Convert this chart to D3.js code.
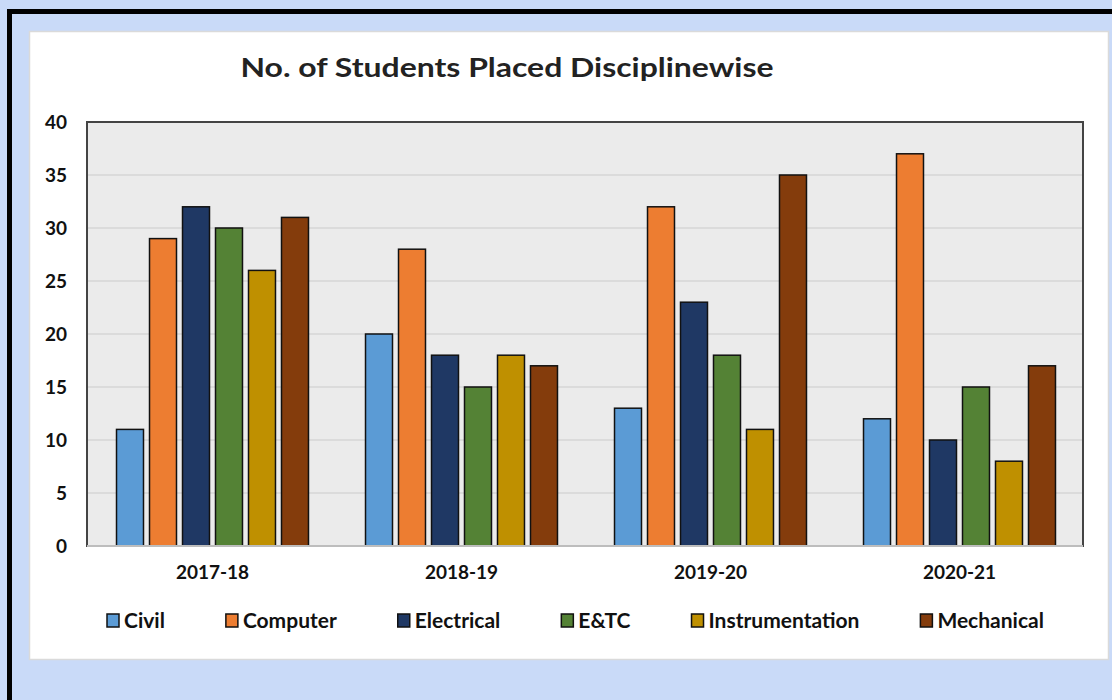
<!DOCTYPE html>
<html><head><meta charset="utf-8">
<script src="https://cdn.jsdelivr.net/npm/d3@7/dist/d3.min.js"></script>
<style>html,body{margin:0;padding:0;background:#c9daf8;overflow:hidden}</style>
</head><body>
<svg id="c" width="1112" height="700"></svg>
<script>
const years = ["2017-18", "2018-19", "2019-20", "2020-21"];
const disciplines = ["Civil", "Computer", "Electrical", "E&TC", "Instrumentation", "Mechanical"];
const civil = [11, 20, 13, 12];
const computer = [29, 28, 32, 37];
const electrical = [32, 18, 23, 10];
const etc = [30, 15, 18, 15];
const instrumentation = [26, 18, 11, 8];
const mechanical = [31, 17, 35, 17];
const yTicks = [0, 5, 10, 15, 20, 25, 30, 35, 40];
const colors = ["#5b9bd5", "#ed7d31", "#1f3864", "#548235", "#bf9000", "#843c0c"];
const seriesValues = [civil, computer, electrical, etc, instrumentation, mechanical];

const svg = d3.select("#c");
const FONT = "Lato, 'Open Sans', sans-serif";

// outer frame
svg.append("rect").attr("x", 0).attr("y", 0).attr("width", 1112).attr("height", 700).attr("fill", "#c9daf8");
svg.append("rect").attr("x", 9.5).attr("y", 11.5).attr("width", 1200).attr("height", 800)
  .attr("fill", "none").attr("stroke", "#000").attr("stroke-width", 5);
svg.append("rect").attr("x", 29.5).attr("y", 31.5).attr("width", 1079).attr("height", 628)
  .attr("fill", "#fff").attr("stroke", "#dadada").attr("stroke-width", 1.5);

const plot = {l: 87, t: 122, r: 1083, b: 546};

// title
const title = svg.append("text").attr("x", 507).attr("y", 77).attr("text-anchor", "middle")
  .attr("font-family", FONT).attr("font-weight", "bold").attr("font-size", 26).attr("fill", "#222")
  .text("No. of Students Placed Disciplinewise");
title.attr("textLength", 533).attr("lengthAdjust", "spacingAndGlyphs");

const x0 = d3.scaleBand().domain(years).range([plot.l + 1, plot.r + 1]).paddingInner(0.229).paddingOuter(0.1145);
const x1 = d3.scaleBand().domain(disciplines).range([0, x0.bandwidth()]).paddingInner(0.182);
const y = d3.scaleLinear().domain([0, 40]).range([plot.b, plot.t]);

svg.append("rect").attr("x", plot.l).attr("y", plot.t).attr("width", plot.r - plot.l).attr("height", plot.b - plot.t)
  .attr("fill", "#ebebeb");

// gridlines
svg.append("g").selectAll("line").data(yTicks.filter(d => d > 0 && d < 40)).join("line")
  .attr("x1", plot.l).attr("x2", plot.r).attr("y1", d => y(d)).attr("y2", d => y(d))
  .attr("stroke", "#d6d6d6").attr("stroke-width", 1.5);

// y axis labels
const yAxis = d3.axisLeft(y).tickValues(yTicks).tickSize(0).tickPadding(20);
const ya = svg.append("g").attr("transform", `translate(${plot.l},0)`).call(yAxis);
ya.select(".domain").remove();
ya.selectAll("text").attr("font-family", FONT).attr("font-weight", "bold").attr("font-size", 19).attr("fill", "#111");

// x axis labels
const xAxis = d3.axisBottom(x0).tickSize(0).tickPadding(20);
const xa = svg.append("g").attr("transform", `translate(0,${plot.b})`).call(xAxis);
xa.select(".domain").remove();
xa.selectAll("text").attr("font-family", FONT).attr("font-weight", "bold").attr("font-size", 19).attr("fill", "#111");

// bars
const groups = svg.append("g").selectAll("g").data(years).join("g")
  .attr("transform", d => `translate(${x0(d)},0)`);
groups.selectAll("rect").data((yr, i) => disciplines.map((dsc, j) => ({dsc, j, v: seriesValues[j][i]})))
  .join("rect")
  .attr("x", d => x1(d.dsc)).attr("width", x1.bandwidth())
  .attr("y", d => y(d.v)).attr("height", d => y(0) - y(d.v))
  .attr("fill", d => colors[d.j]).attr("stroke", "#111").attr("stroke-width", 1.5);

// plot border
svg.append("rect").attr("x", plot.l).attr("y", plot.t).attr("width", plot.r - plot.l).attr("height", plot.b - plot.t)
  .attr("fill", "none").attr("stroke", "#444").attr("stroke-width", 2);
svg.append("line").attr("x1", plot.l).attr("x2", plot.r).attr("y1", plot.b).attr("y2", plot.b)
  .attr("stroke", "#bdbdbd").attr("stroke-width", 2);

// legend
const leg = svg.append("g");
let lx = 107;
disciplines.forEach((d, i) => {
  leg.append("rect").attr("x", lx).attr("y", 614).attr("width", 12).attr("height", 13)
    .attr("fill", colors[i]).attr("stroke", "#111").attr("stroke-width", 1.5);
  const t = leg.append("text").attr("x", lx + 17).attr("y", 628).attr("font-family", FONT)
    .attr("font-weight", "bold").attr("font-size", 21).attr("fill", "#111").text(d);
  lx += 17 + t.node().getComputedTextLength() + 61;
});
</script>
</body></html>
